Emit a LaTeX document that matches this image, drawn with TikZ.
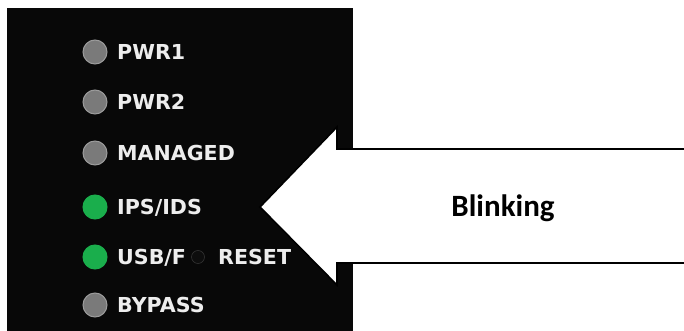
\documentclass[tikz,border=0pt]{standalone}
\usepackage{fontspec}
\newfontfamily\ledfont{DejaVu Sans}
\newfontfamily\calfont{Carlito}
\definecolor{ledgray}{HTML}{7A7A7A}
\definecolor{ledring}{HTML}{9C9C9C}
\definecolor{ledgreen}{HTML}{1AAE4C}
\definecolor{labtxt}{HTML}{EDEDED}
\begin{document}
\begin{tikzpicture}[x=1pt,y=-1pt,
  ledoff/.style={circle,fill=ledgray,draw=ledring,line width=1pt,minimum size=24pt,inner sep=0pt},
  ledon/.style={circle,fill=ledgreen,draw=ledgreen,line width=1pt,minimum size=24pt,inner sep=0pt},
  lab/.style={anchor=base west,inner sep=0pt,text=labtxt,font=\ledfont\bfseries\fontsize{20.6}{20.6}\selectfont},
  hole/.style={circle,fill=black!95,draw=black!80,line width=0.6pt,minimum size=13pt,inner sep=0pt}]
\useasboundingbox (0,0) rectangle (684,331);
\fill[white] (0,0) rectangle (684,331);
\fill[black!97] (7,8) rectangle (353,331);
\node[ledoff] (l1) at (95,52) {};
\node[ledoff] (l2) at (95,102) {};
\node[ledoff] (l3) at (95,153) {};
\node[ledon]  (l4) at (95,207) {};
\node[ledon]  (l5) at (95,257) {};
\node[ledoff] (l6) at (95,305) {};
\node[lab] (t1) at (117,59.8) {PWR1};
\node[lab] (t2) at (117,109.8) {PWR2};
\node[lab] (t3) at (117,160.8) {MANAGED};
\node[lab] (t4) at (117,214.8) {IPS/IDS};
\node[lab] (t5) at (117,264.8) {USB/F};
\node[hole] (h) at (198,257) {};
\node[lab] (t5b) at (218,264.8) {RESET};
\node[lab] (t6) at (117,312.8) {BYPASS};
\begin{scope}
\clip (0,0) rectangle (684,331);
\filldraw[fill=white,draw=black,line width=1.6pt,line join=miter]
  (260,207) -- (337,127) -- (337,149) -- (700,149) -- (700,263) -- (337,263) -- (337,285) -- cycle;
\end{scope}
\node[font=\calfont\bfseries\fontsize{31}{31}\selectfont,inner sep=0pt] (bl) at (503,208) {Blinking};
\end{tikzpicture}
\end{document}
